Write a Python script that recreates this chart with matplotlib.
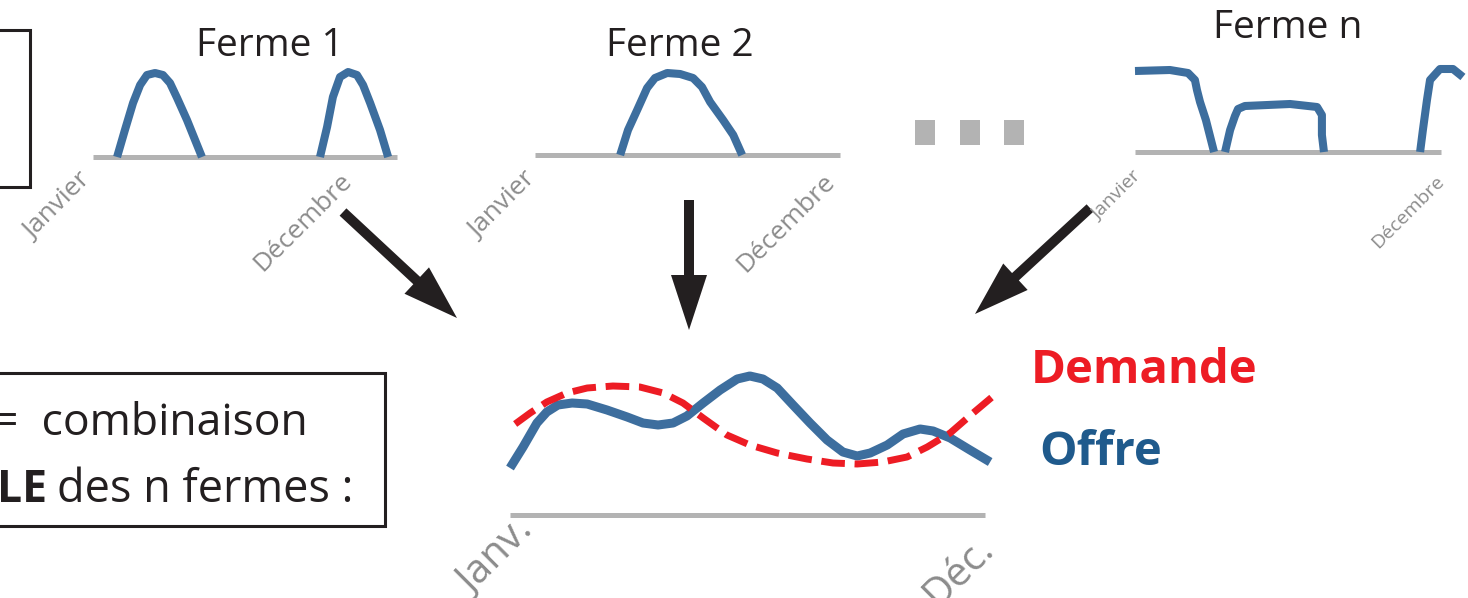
"""
Schema: offre individuelle de n fermes -> offre collective vs demande
"""

import matplotlib.pyplot as plt
from matplotlib.patches import Rectangle, FancyArrow

plt.rcParams['font.family'] = ['Open Sans', 'DejaVu Sans']

W, H = 1468, 598

BLUE = '#3d6e9e'
RED = '#ed1c24'
GREY = '#b3b3b3'
LABEL_GREY = '#8c8c8c'
INK = '#231f20'

# --- data (months 0-12, production level) ---
ferme1_a_mois = [0.95, 1.26, 1.58, 1.86, 2.13, 2.45, 2.76, 3.04, 3.32, 3.71, 4.30]
ferme1_a_val = [0.0, 2.7, 5.4, 7.2, 8.2, 8.4, 8.2, 7.4, 5.9, 3.7, 0.0]
ferme1_b_mois = [8.96, 9.24, 9.47, 9.75, 10.07, 10.42, 10.66, 10.94, 11.33, 11.65]
ferme1_b_val = [0.0, 3.0, 6.0, 8.0, 8.5, 8.2, 7.2, 5.4, 2.7, 0.0]

ferme2_mois = [3.35, 3.66, 4.02, 4.41, 4.72, 5.20, 5.71, 6.22, 6.57, 6.89, 7.40, 7.80, 8.15]
ferme2_val = [0.0, 2.5, 4.5, 6.7, 7.7, 8.2, 8.1, 7.7, 6.8, 5.3, 3.5, 2.0, 0.0]

fermen_a_mois = [0.0, 1.37, 2.08, 2.35, 2.43, 2.55, 2.78, 3.10]
fermen_a_val = [8.1, 8.2, 7.9, 7.2, 6.2, 5.0, 3.2, 0.0]
fermen_b_mois = [3.53, 3.73, 3.92, 4.04, 4.31, 6.08, 7.14, 7.33, 7.33, 7.41]
fermen_b_val = [0.0, 2.2, 3.6, 4.3, 4.6, 4.8, 4.5, 3.7, 1.7, 0.0]
fermen_c_mois = [11.18, 11.29, 11.45, 11.57, 11.96, 12.47, 12.86]
fermen_c_val = [0.0, 2.2, 5.2, 7.2, 8.3, 8.3, 7.5]

offre_mois = [0.00, 0.33, 0.68, 0.93, 1.21, 1.57, 1.95, 2.45, 2.96, 3.36, 3.74,
              4.12, 4.47, 4.88, 5.31, 5.74, 6.06, 6.39, 6.75, 7.15, 7.58, 8.01,
              8.41, 8.77, 9.10, 9.53, 9.93, 10.36, 10.69, 11.12, 11.62, 12.13]
offre_val = [4.7, 6.8, 9.2, 10.3, 11.0, 11.2, 11.1, 10.5, 9.8, 9.2, 9.0,
             9.2, 9.9, 11.2, 12.5, 13.6, 13.9, 13.6, 12.7, 11.0, 9.2, 7.5,
             6.3, 5.9, 6.2, 7.0, 8.1, 8.6, 8.4, 7.7, 6.5, 5.3]

demande_mois = [0.13, 0.51, 0.93, 1.44, 1.95, 2.60, 3.28, 3.87, 4.37, 4.88, 5.48,
                6.06, 6.75, 7.50, 8.16, 8.77, 9.42, 10.03, 10.54, 11.12, 11.70, 12.33]
demande_val = [9.1, 10.2, 11.3, 12.2, 12.7, 12.9, 12.8, 12.2, 11.2, 9.7, 8.0,
               7.0, 6.2, 5.6, 5.2, 5.1, 5.3, 5.8, 6.8, 8.2, 10.2, 12.3]


def mini_axes(fig, x0, x1, ybase, top=16, px_per_unit=10):
    """Axes whose x spans Jan-Dec between pixel x0..x1, value 0 at ybase."""
    ax = fig.add_axes([x0 / W, (H - ybase) / H, (x1 - x0) / W, top * px_per_unit / H])
    ax.set_xlim(0, 12)
    ax.set_ylim(0, top)
    ax.axis('off')
    ax.axhline(0, color=GREY, lw=3.6, solid_capstyle='butt', zorder=1, clip_on=False)
    return ax


def curve(ax, x, y, lw=5.8, **kw):
    ax.plot(x, y, color=kw.pop('color', BLUE), lw=lw, solid_capstyle='butt',
            solid_joinstyle='round', clip_on=False, zorder=2, **kw)


def main():
    fig = plt.figure(figsize=(W / 100, H / 100), dpi=100)
    fig.patch.set_facecolor('white')

    # overlay in pixel units for boxes, texts, arrows
    ov = fig.add_axes([0, 0, 1, 1])
    ov.set_xlim(0, W)
    ov.set_ylim(H, 0)
    ov.axis('off')

    # left boxes (cut by the frame)
    ov.add_patch(Rectangle((-20, 30), 50, 157, fill=False, ec=INK, lw=2.2))
    ov.add_patch(Rectangle((-20, 373), 405, 153, fill=False, ec=INK, lw=2.2))
    ov.text(308, 435, '=  combinaison', fontsize=32, color=INK, ha='right', va='baseline')
    ov.text(57, 502, 'des n fermes :', fontsize=32.5, color=INK, ha='left', va='baseline')
    ov.text(47, 502, 'LE', fontsize=32, color=INK, ha='right', va='baseline',
            fontweight='bold')

    # farm titles
    ov.text(270, 56, 'Ferme 1', fontsize=28, color=INK, ha='center', va='baseline')
    ov.text(680, 56, 'Ferme 2', fontsize=28, color=INK, ha='center', va='baseline')
    ov.text(1288, 38, 'Ferme n', fontsize=28, color=INK, ha='center', va='baseline')

    # month labels
    labels = [
        (91, 182, 'Janvier', 19), (353, 182, 'Décembre', 19),
        (536, 181, 'Janvier', 19), (836, 183, 'Décembre', 19),
        (1142, 177, 'Janvier', 14), (1445, 182, 'Décembre', 14),
        (535, 533, 'Janv.', 29), (995, 550, 'Déc.', 29),
    ]
    for x, y, s, fs in labels:
        ov.text(x, y, s, fontsize=fs, color=LABEL_GREY, rotation=45,
                rotation_mode='anchor', ha='right', va='baseline')

    # "..." squares
    for x in [915, 960, 1004]:
        ov.add_patch(Rectangle((x, 120), 20, 25, color=GREY, lw=0))

    # arrows
    arrow_kw = dict(width=10, head_width=36, head_length=55,
                    length_includes_head=True, color=INK, lw=0)
    ov.add_patch(FancyArrow(343, 212, 457 - 343, 318 - 212, **arrow_kw))
    ov.add_patch(FancyArrow(689, 200, 0, 130, **arrow_kw))
    ov.add_patch(FancyArrow(1090, 208, 975 - 1090, 314 - 208, **arrow_kw))

    # legend words
    ov.text(1031, 383, 'Demande', fontsize=34, color=RED, fontweight='bold',
            ha='left', va='baseline')
    ov.text(1039, 465, 'Offre', fontsize=34, color='#1f5a8c', fontweight='bold',
            ha='left', va='baseline')

    # farm curves
    ax1 = mini_axes(fig, 93, 397, 157)
    curve(ax1, ferme1_a_mois, ferme1_a_val)
    curve(ax1, ferme1_b_mois, ferme1_b_val)

    ax2 = mini_axes(fig, 535, 840, 155)
    curve(ax2, ferme2_mois, ferme2_val)

    axn = mini_axes(fig, 1135, 1441, 152)
    curve(axn, fermen_a_mois, fermen_a_val)
    curve(axn, fermen_b_mois, fermen_b_val)
    curve(axn, fermen_c_mois, fermen_c_val)

    # collective supply vs demand
    axc = mini_axes(fig, 510, 985, 515)
    curve(axc, offre_mois, offre_val, lw=6.5)
    axc.plot(demande_mois, demande_val, color=RED, lw=5, dashes=(3.4, 1.4),
             dash_capstyle='butt', clip_on=False, zorder=3)

    fig.savefig('out.png', dpi=100)
    plt.close(fig)


if __name__ == "__main__":
    main()
